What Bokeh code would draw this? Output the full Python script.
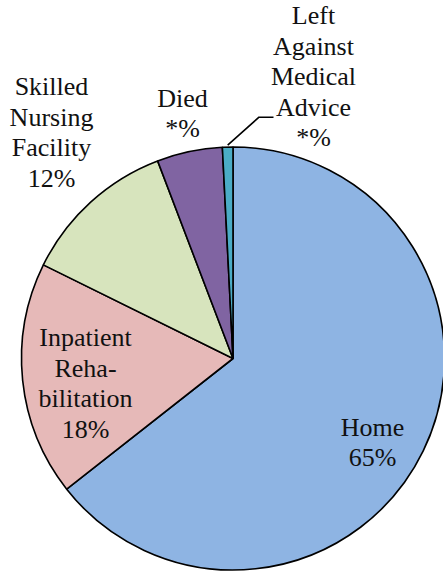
import math
from bokeh.plotting import figure
from bokeh.models import Range1d, ColumnDataSource, Label
from bokeh.embed import file_html
from bokeh.resources import INLINE

# ---- data ----
categories = ["Home", "Inpatient Rehabilitation", "Skilled Nursing Facility", "Died", "Left Against Medical Advice"]
shares = [64.4, 17.9, 11.9, 5.0, 0.8]
label_names = [["Home"], ["Inpatient", "Reha-", "bilitation"], ["Skilled", "Nursing", "Facility"],
               ["Died"], ["Left", "Against", "Medical", "Advice"]]
label_pcts = ["65%", "18%", "12%", "*%", "*%"]

# ---- style / layout ----
colors = ["#8EB4E3", "#E6B9B8", "#D7E4BD", "#8064A2", "#4BACC6"]
cx, cy, r = 232.5, -358.0, 211.5
label_pos = [(372, -442), (85, -383), (51, -132), (182, -113), (313, -76)]
FONT = "Liberation Serif"
LINE_SP = 30.5

W, H = 443, 573
p = figure(width=W, height=H, output_backend="svg", toolbar_location=None,
           x_range=Range1d(0, W), y_range=Range1d(-H, 0),
           min_border=0, outline_line_color=None, background_fill_color="white")
p.axis.visible = False
p.grid.visible = False

total = sum(shares)
starts, ends = [], []
cum = 0.0
for s in shares:
    a0 = math.pi / 2 - 2 * math.pi * cum / total
    cum += s
    a1 = math.pi / 2 - 2 * math.pi * cum / total
    starts.append(a0)
    ends.append(a1)

src = ColumnDataSource(dict(x=[cx] * len(shares), y=[cy] * len(shares),
                            start=starts, end=ends, color=colors, cat=categories))
p.wedge(x="x", y="y", radius=r, start_angle="start", end_angle="end",
        direction="clock", fill_color="color", line_color="black", line_width=1.6,
        source=src)

# leader line for the small slice
mid = (starts[4] + ends[4]) / 2
lx0 = cx + r * math.cos(mid)
ly0 = cy + r * math.sin(mid)
p.line([lx0, 258.5, 273], [ly0 + 2, -116.7, -116.7], line_color="black", line_width=1.6)

# labels: one Label per line
for (px, py), name_lines, pct in zip(label_pos, label_names, label_pcts):
    lines = name_lines + [pct]
    n = len(lines)
    for i, ln in enumerate(lines):
        p.add_layout(Label(x=px, y=py + (n - 1) / 2 * LINE_SP - i * LINE_SP, text=ln,
                           text_font=FONT, text_font_size="26px", text_align="center",
                           text_baseline="middle", text_color="#111111"))

open("out.html", "w").write(file_html(p, INLINE))
